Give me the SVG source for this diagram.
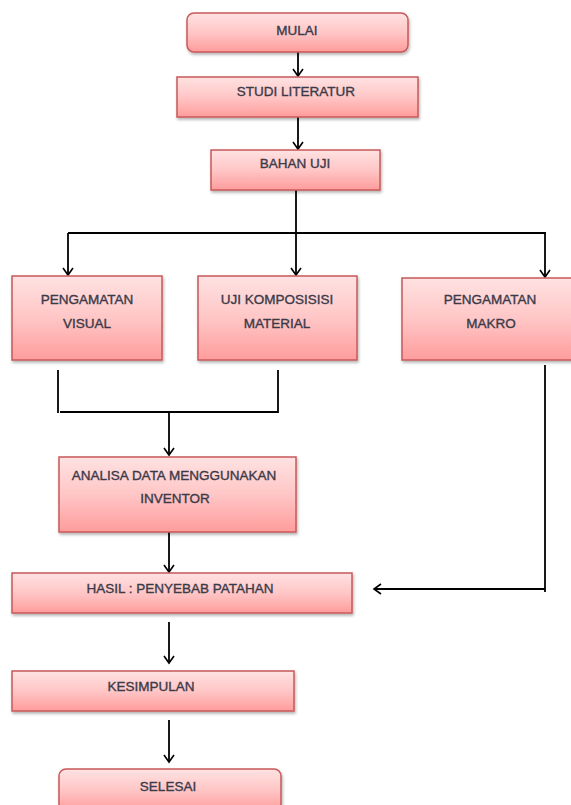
<svg xmlns="http://www.w3.org/2000/svg" width="571" height="805" viewBox="0 0 571 805">
<defs>
<linearGradient id="g" x1="0" y1="0" x2="0" y2="1">
<stop offset="0" stop-color="#FFE2E2"/>
<stop offset="0.5" stop-color="#FFC6C6"/>
<stop offset="1" stop-color="#FF9C9C"/>
</linearGradient>
<filter id="sh" x="-10%" y="-10%" width="120%" height="130%">
<feDropShadow dx="1" dy="2" stdDeviation="1.5" flood-color="#000" flood-opacity="0.3"/>
</filter>
<marker id="ah" markerWidth="12" markerHeight="12" refX="10" refY="6" orient="auto" markerUnits="userSpaceOnUse">
<path d="M3,1 L10,6 L3,11" fill="none" stroke="#000" stroke-width="1.6"/>
</marker>
</defs>
<style>
.box{fill:url(#g);stroke:#C8585A;stroke-width:1.5;filter:url(#sh)}
.t{font-family:"Liberation Sans",Arial,sans-serif;font-size:13.5px;fill:#3a3a48;stroke:#3a3a48;stroke-width:0.35;text-anchor:middle}
.c{fill:none;stroke:#000;stroke-width:1.8}
.a{marker-end:url(#ah)}
</style>
<rect width="571" height="805" fill="#fff"/>
<g id="connectors">
<line class="c a" x1="298" y1="52" x2="298" y2="76"/>
<line class="c a" x1="298" y1="117" x2="298" y2="149"/>
<line class="c" x1="296" y1="190" x2="296" y2="233"/>
<line class="c" x1="68" y1="233" x2="546" y2="233"/>
<line class="c a" x1="68" y1="233" x2="68" y2="275"/>
<line class="c a" x1="296" y1="233" x2="296" y2="275"/>
<line class="c a" x1="545" y1="233" x2="545" y2="277"/>
<line class="c" x1="58" y1="370" x2="58" y2="413"/>
<line class="c" x1="278" y1="370" x2="278" y2="413"/>
<line class="c" x1="60" y1="412" x2="278" y2="412"/>
<line class="c a" x1="169" y1="412" x2="169" y2="455"/>
<line class="c a" x1="169" y1="532" x2="169" y2="572"/>
<line class="c" x1="545" y1="365" x2="545" y2="592"/>
<line class="c a" x1="545" y1="589" x2="374" y2="589"/>
<line class="c a" x1="169" y1="622" x2="169" y2="663"/>
<line class="c a" x1="169" y1="720" x2="169" y2="762"/>
</g>
<g id="mulai"><rect class="box" x="187" y="13" width="221" height="39" rx="7"/><text class="t" x="297" y="35">MULAI</text></g>
<g id="studi"><rect class="box" x="177" y="77" width="241" height="40"/><text class="t" x="296" y="96">STUDI LITERATUR</text></g>
<g id="bahan"><rect class="box" x="211" y="150" width="169" height="40"/><text class="t" x="295" y="168">BAHAN UJI</text></g>
<g id="visual"><rect class="box" x="12" y="276" width="150" height="84"/><text class="t" x="87" y="304">PENGAMATAN</text><text class="t" x="87" y="328">VISUAL</text></g>
<g id="komposisi"><rect class="box" x="198" y="276" width="159" height="84"/><text class="t" x="277" y="304">UJI KOMPOSISISI</text><text class="t" x="277" y="328">MATERIAL</text></g>
<g id="makro"><rect class="box" x="402" y="278" width="175" height="82"/><text class="t" x="490" y="304">PENGAMATAN</text><text class="t" x="491" y="328">MAKRO</text></g>
<g id="analisa"><rect class="box" x="59" y="457" width="237" height="75"/><text class="t" x="174" y="480">ANALISA DATA MENGGUNAKAN</text><text class="t" x="175" y="503">INVENTOR</text></g>
<g id="hasil"><rect class="box" x="12" y="573" width="340" height="40"/><text class="t" x="180" y="593">HASIL : PENYEBAB PATAHAN</text></g>
<g id="kesimpulan"><rect class="box" x="12" y="671" width="282" height="40"/><text class="t" x="151" y="691">KESIMPULAN</text></g>
<g id="selesai"><rect class="box" x="59" y="769" width="222" height="42" rx="7"/><text class="t" x="168" y="791">SELESAI</text></g>
</svg>
